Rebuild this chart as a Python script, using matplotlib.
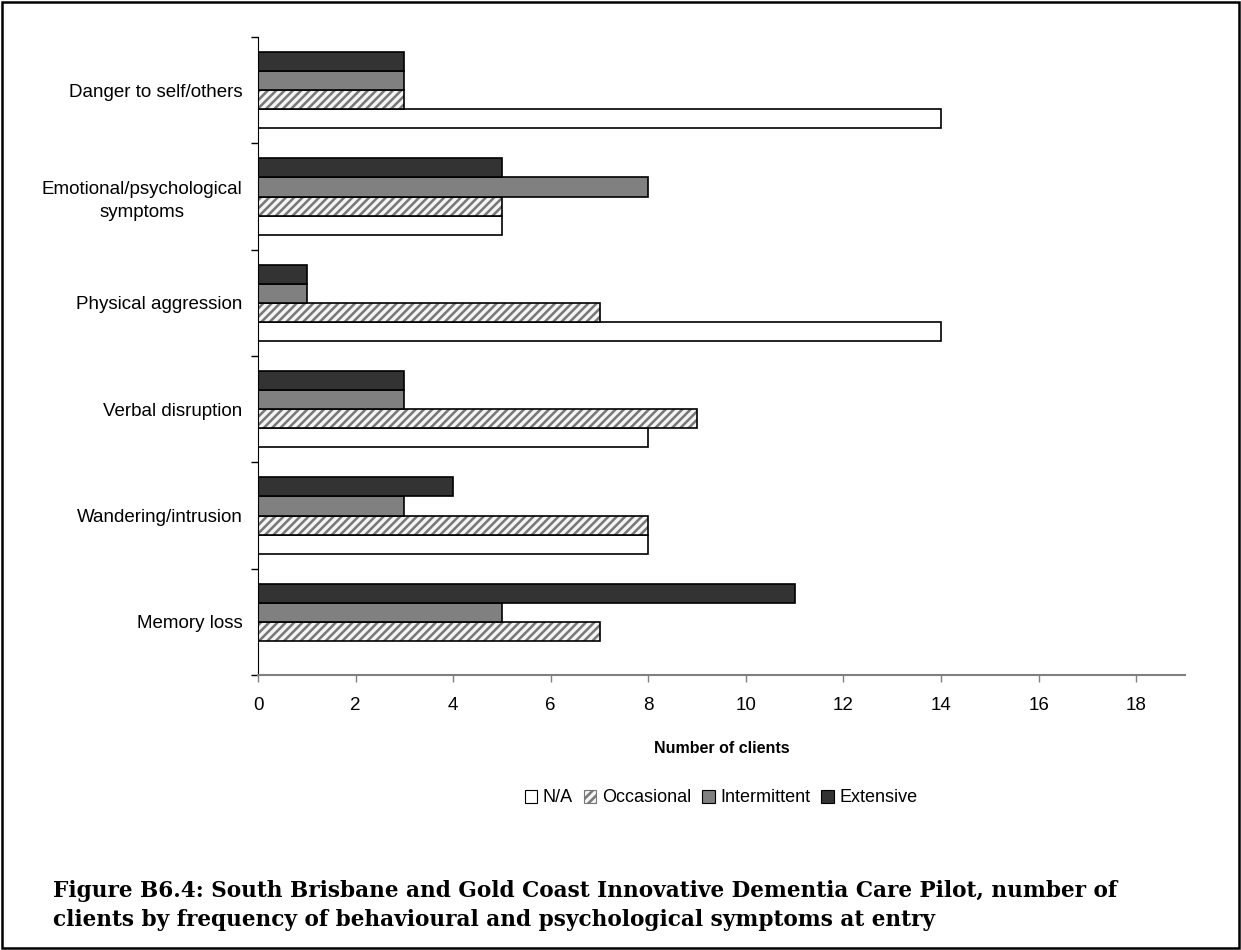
import matplotlib
matplotlib.use("Agg")
import matplotlib.pyplot as plt
import numpy as np
from matplotlib.patches import Patch, Rectangle

plt.rcParams['font.family'] = ['Liberation Sans', 'DejaVu Sans']
plt.rcParams['hatch.linewidth'] = 1.8

# symptom categories, bottom to top
categories = ['Memory loss', 'Wandering/intrusion', 'Verbal disruption',
              'Physical aggression', 'Emotional/psychological\nsymptoms',
              'Danger to self/others']
series = ['N/A', 'Occasional', 'Intermittent', 'Extensive']

na_vals = [0, 8, 8, 14, 5, 14]
occasional_vals = [7, 8, 9, 7, 5, 3]
intermittent_vals = [5, 3, 3, 1, 8, 3]
extensive_vals = [11, 4, 3, 1, 5, 3]

x_ticks = [0, 2, 4, 6, 8, 10, 12, 14, 16, 18]

fig = plt.figure(figsize=(12.41, 9.5), dpi=100)
ax = fig.add_axes([258/1241, 1-675/950, (1185-258)/1241, (675-37)/950])

y = np.arange(len(categories))
h = 0.18
offs = [-0.27, -0.09, 0.09, 0.27]

# N/A - plain white
ax.barh(y + offs[0], na_vals, h, color='white', edgecolor='black', linewidth=1.2)
# Occasional - grey diagonal hatch, then black outline over it
ax.barh(y + offs[1], occasional_vals, h, color='#f4f4f4', edgecolor='#777777',
        hatch='////', linewidth=0)
ax.barh(y + offs[1], occasional_vals, h, color='none', edgecolor='black', linewidth=1.2)
# Intermittent
ax.barh(y + offs[2], intermittent_vals, h, color='#808080', edgecolor='black', linewidth=1.2)
# Extensive
ax.barh(y + offs[3], extensive_vals, h, color='#333333', edgecolor='black', linewidth=1.2)

ax.set_xlim(0, 19)
ax.set_ylim(-0.5, len(categories) - 0.5)
ax.set_xticks(x_ticks)
ax.tick_params(axis='x', labelsize=13.5, length=5, width=1, color='#808080', pad=11)

# ticks between bands, labels in the middle of each band
ax.set_yticks(np.arange(-0.5, len(categories)), labels=[])
ax.set_yticks(y, labels=categories, minor=True)
ax.tick_params(axis='y', which='major', length=5, width=1)
ax.tick_params(axis='y', which='minor', length=0, pad=11, labelsize=13.5)
for lbl in ax.get_yticklabels(minor=True):
    lbl.set_multialignment('center')
    lbl.set_linespacing(1.45)

ax.spines['top'].set_visible(False)
ax.spines['right'].set_visible(False)
ax.spines['bottom'].set_color('#808080')
ax.spines['bottom'].set_linewidth(1.5)
ax.spines['left'].set_color('black')

ax.set_xlabel('Number of clients', fontsize=11.5, fontweight='bold', labelpad=19)

handles = [Patch(facecolor='white', edgecolor='black', linewidth=0.8),
           Patch(facecolor='#f4f4f4', edgecolor='#777777', hatch='////', linewidth=0.8),
           Patch(facecolor='#808080', edgecolor='black', linewidth=0.8),
           Patch(facecolor='#333333', edgecolor='black', linewidth=0.8)]
fig.legend(handles, series, loc='center', bbox_to_anchor=(721/1241, 1-798/950),
           ncol=4, frameon=False, fontsize=13, handlelength=0.7, handleheight=0.7,
           handletextpad=0.3, columnspacing=0.6)

fig.text(53/1241, 1-880/950,
         'Figure B6.4: South Brisbane and Gold Coast Innovative Dementia Care Pilot, number of\n'
         'clients by frequency of behavioural and psychological symptoms at entry',
         family='DejaVu Serif', fontweight='bold', fontsize=15.6, va='top', ha='left',
         linespacing=1.4)

fig.add_artist(Rectangle((0.002, 0.002), 0.996, 0.996, transform=fig.transFigure,
                         fill=False, edgecolor='black', linewidth=1.8))

fig.savefig('out.png', dpi=100)
